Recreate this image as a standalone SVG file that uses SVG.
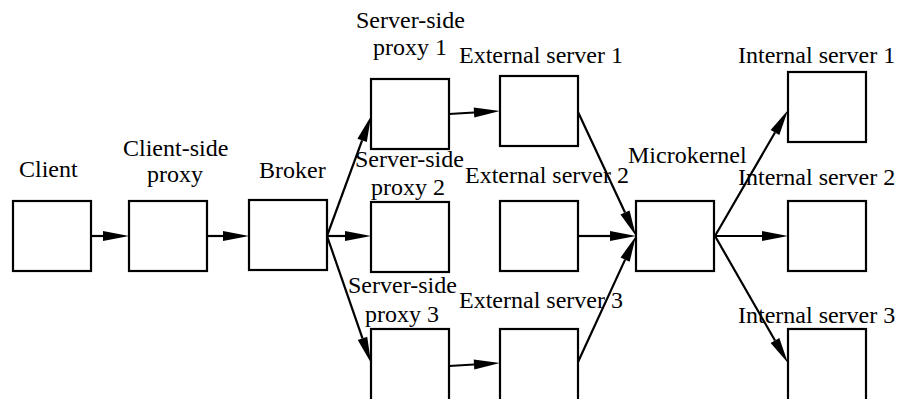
<svg xmlns="http://www.w3.org/2000/svg" width="898" height="399" viewBox="0 0 898 399">
  <defs>
    <!-- filled arrowhead; the line stops at its back edge -->
    <marker id="head" markerUnits="userSpaceOnUse" markerWidth="27" markerHeight="11" refX="0" refY="5" orient="auto" overflow="visible">
      <path d="M0,0 L26,5 L0,10 Z" fill="#000000"/>
    </marker>
    <!-- node outline, plus a taller one for the bottom row that runs off the page -->
    <rect id="box" width="78" height="70" fill="#ffffff" stroke="#000000" stroke-width="2.2"/>
    <rect id="box-tall" width="78" height="74" fill="#ffffff" stroke="#000000" stroke-width="2.2"/>
  </defs>
  <rect width="898" height="399" fill="#ffffff"/>

  <g id="connectors" fill="none" stroke="#000000" stroke-width="2.2" marker-end="url(#head)">
    <line x1="91" y1="236" x2="103" y2="236"/>
    <line x1="207" y1="236" x2="223" y2="236"/>
    <line x1="327" y1="236" x2="362.1" y2="140.4"/>
    <line x1="327" y1="236" x2="345" y2="236"/>
    <line x1="327" y1="236" x2="362.5" y2="338.4"/>
    <line x1="449" y1="114" x2="474" y2="112.5"/>
    <line x1="449" y1="366" x2="474" y2="364.5"/>
    <line x1="578" y1="112" x2="625" y2="212.5"/>
    <line x1="578" y1="236" x2="610" y2="236"/>
    <line x1="578" y1="362" x2="625.1" y2="259.6"/>
    <line x1="715" y1="236" x2="775" y2="132.5"/>
    <line x1="715" y1="236" x2="762" y2="236"/>
    <line x1="715" y1="236" x2="775" y2="340.5"/>
  </g>

  <g id="nodes" font-size="24" fill="#000000">
    <g id="client">
      <use href="#box" x="13" y="201"/>
      <text x="19" y="177" font-family="Liberation Serif">Client</text>
    </g>
    <g id="client-side-proxy">
      <use href="#box" x="129" y="201"/>
      <text x="123" y="156" font-family="Liberation Serif">Client-side</text>
      <text x="147" y="182" font-family="Liberation Serif">proxy</text>
    </g>
    <g id="broker">
      <use href="#box" x="249" y="200"/>
      <text x="259" y="178" font-family="Liberation Serif">Broker</text>
    </g>
    <g id="server-side-proxy-1">
      <use href="#box" x="371" y="79"/>
      <text x="356" y="28" font-family="Liberation Serif">Server-side</text>
      <text x="373" y="55" font-family="Liberation Serif">proxy 1</text>
    </g>
    <g id="server-side-proxy-2">
      <use href="#box" x="371" y="202"/>
      <text x="355" y="167" font-family="Liberation Serif">Server-side</text>
      <text x="371" y="195" font-family="Liberation Serif">proxy 2</text>
    </g>
    <g id="server-side-proxy-3">
      <use href="#box-tall" x="371" y="329"/>
      <text x="348" y="293" font-family="Liberation Serif">Server-side</text>
      <text x="365" y="322" font-family="Liberation Serif">proxy 3</text>
    </g>
    <g id="external-server-1">
      <use href="#box" x="500" y="76"/>
      <text x="459" y="63" font-family="Liberation Serif">External server 1</text>
    </g>
    <g id="external-server-2">
      <use href="#box" x="500" y="201"/>
      <text x="465" y="183" font-family="Liberation Serif">External server 2</text>
    </g>
    <g id="external-server-3">
      <use href="#box-tall" x="500" y="329"/>
      <text x="459" y="308" font-family="Liberation Serif">External server 3</text>
    </g>
    <g id="microkernel">
      <use href="#box" x="636" y="201"/>
      <text x="628" y="163" font-family="Liberation Serif">Microkernel</text>
    </g>
    <g id="internal-server-1">
      <use href="#box" x="788" y="72"/>
      <text x="738" y="63" font-family="Liberation Serif">Internal server 1</text>
    </g>
    <g id="internal-server-2">
      <use href="#box" x="788" y="201"/>
      <text x="738" y="185" font-family="Liberation Serif">Internal server 2</text>
    </g>
    <g id="internal-server-3">
      <use href="#box-tall" x="788" y="329"/>
      <text x="738" y="323" font-family="Liberation Serif">Internal server 3</text>
    </g>
  </g>
</svg>
